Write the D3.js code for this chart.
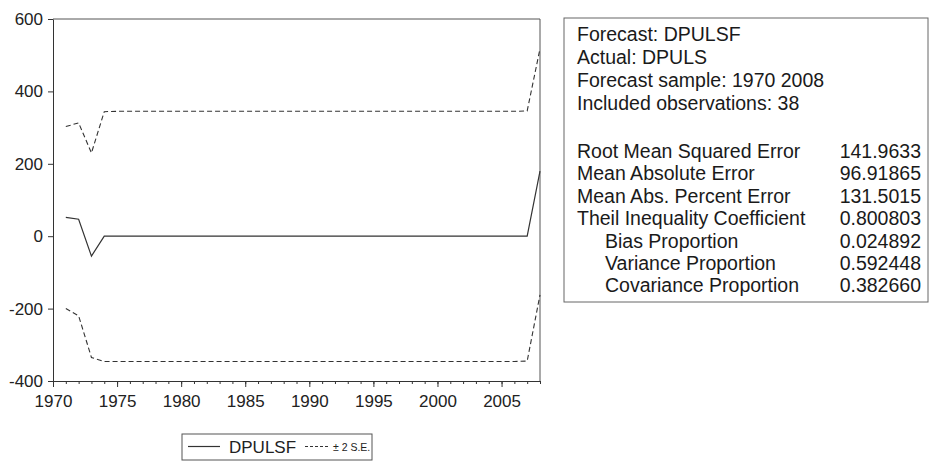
<!DOCTYPE html>
<html>
<head>
<meta charset="utf-8">
<script src="https://cdn.jsdelivr.net/npm/d3@7/dist/d3.min.js"></script>
<style>
  body { margin: 0; background: #fff; }
  svg { display: block; font-family: Arial, "Liberation Sans", sans-serif; }
</style>
</head>
<body>
<div id="chart"></div>
<script>
// forecast years (1971-2008, 38 obs)
var years = [1971,1972,1973,1974,1975,1976,1977,1978,1979,1980,
             1981,1982,1983,1984,1985,1986,1987,1988,1989,1990,
             1991,1992,1993,1994,1995,1996,1997,1998,1999,2000,
             2001,2002,2003,2004,2005,2006,2007,2008];

// DPULSF forecast
var forecast = [52,47,-55,0,0,0,0,0,0,0,
                0,0,0,0,0,0,0,0,0,0,
                0,0,0,0,0,0,0,0,0,0,
                0,0,0,0,0,0,0,180];

// +2 S.E. band
var upper = [303,313,230,344,345,345,345,345,345,345,
             345,345,345,345,345,345,345,345,345,345,
             345,345,345,345,345,345,345,345,345,345,
             345,345,345,345,345,345,346,518];

// -2 S.E. band
var lower = [-200,-220,-335,-346,-346,-346,-346,-346,-346,-346,
             -346,-346,-346,-346,-346,-346,-346,-346,-346,-346,
             -346,-346,-346,-346,-346,-346,-346,-346,-346,-346,
             -346,-346,-346,-346,-346,-346,-345,-162];

var yTicks = [-400,-200,0,200,400,600];
var xTicks = [1970,1975,1980,1985,1990,1995,2000,2005];

var infoLines = ["Forecast: DPULSF", "Actual: DPULS", "Forecast sample: 1970 2008", "Included observations: 38"];
var statLabels = ["Root Mean Squared Error", "Mean Absolute Error", "Mean Abs. Percent Error",
                  "Theil Inequality Coefficient", "Bias Proportion", "Variance Proportion", "Covariance Proportion"];
var statValues = ["141.9633", "96.91865", "131.5015", "0.800803", "0.024892", "0.592448", "0.382660"];
var statIndent = [false, false, false, false, true, true, true];

var W = 929, H = 462;
var plot = {left: 53, right: 540, top: 19, bottom: 381};
var ink = "#333";
var FONT = "Arial, 'Liberation Sans', sans-serif";

var svg = d3.select("#chart").append("svg")
  .attr("width", W).attr("height", H);

var x = d3.scaleLinear().domain([1970, 2008]).range([plot.left, plot.right]);
var y = d3.scaleLinear().domain([-400, 600]).range([plot.bottom, plot.top]);

// frame: top + right
svg.append("path")
  .attr("d", "M" + plot.left + "," + plot.top + "H" + plot.right + "V" + plot.bottom)
  .attr("fill", "none").attr("stroke", "#555").attr("stroke-width", 1);

// y axis (plain hyphen minus like the original)
var yAxis = d3.axisLeft(y).tickValues(yTicks).tickSize(5).tickSizeOuter(0).tickPadding(5)
  .tickFormat(function(d) { return String(d); });
var gy = svg.append("g").attr("transform", "translate(" + plot.left + ",0)").call(yAxis);
gy.attr("font-size", 17).attr("font-family", FONT);
gy.selectAll("text").attr("fill", "#222");
gy.selectAll("line,path").attr("stroke", ink);

// x axis: minor ticks every year, major every 5
var minorYears = d3.range(1970, 2009);
var xMinor = d3.axisBottom(x).tickValues(minorYears).tickSize(3).tickSizeOuter(0).tickFormat("");
svg.append("g").attr("transform", "translate(0," + plot.bottom + ")").call(xMinor)
  .selectAll("line,path").attr("stroke", ink);
var xAxis = d3.axisBottom(x).tickValues(xTicks).tickSize(6).tickSizeOuter(0)
  .tickFormat(function(d) { return String(d); }).tickPadding(8);
var gx = svg.append("g").attr("transform", "translate(0," + plot.bottom + ")").call(xAxis);
gx.attr("font-size", 17).attr("font-family", FONT);
gx.select(".domain").remove();
gx.selectAll("text").attr("fill", "#222");
gx.selectAll("line").attr("stroke", ink);

var line = d3.line()
  .x(function(d) { return x(d[0]); })
  .y(function(d) { return y(d[1]); });

function pairs(vals) { return years.map(function(yr, i) { return [yr, vals[i]]; }); }

svg.append("path").datum(pairs(upper)).attr("d", line)
  .attr("fill", "none").attr("stroke", ink).attr("stroke-width", 1.1).attr("stroke-dasharray", "5,3");
svg.append("path").datum(pairs(lower)).attr("d", line)
  .attr("fill", "none").attr("stroke", ink).attr("stroke-width", 1.1).attr("stroke-dasharray", "5,3");
svg.append("path").datum(pairs(forecast)).attr("d", line)
  .attr("fill", "none").attr("stroke", ink).attr("stroke-width", 1.2);

// legend
var lg = svg.append("g").attr("transform", "translate(182,434)");
lg.append("rect").attr("width", 190).attr("height", 26)
  .attr("fill", "#fff").attr("stroke", "#555").attr("stroke-width", 1);
lg.append("line").attr("x1", 6).attr("x2", 38).attr("y1", 12.5).attr("y2", 12.5)
  .attr("stroke", ink).attr("stroke-width", 1.2);
lg.append("text").attr("x", 47).attr("y", 19).attr("font-size", 17).attr("fill", "#222").text("DPULSF");
lg.append("line").attr("x1", 123).attr("x2", 148).attr("y1", 12.5).attr("y2", 12.5)
  .attr("stroke", ink).attr("stroke-width", 1.1).attr("stroke-dasharray", "3,2");
lg.append("text").attr("x", 151).attr("y", 17).attr("font-size", 10.5).attr("fill", "#222").text("± 2 S.E.");

// stats box
var sb = svg.append("g");
sb.append("rect").attr("x", 564).attr("y", 18).attr("width", 364).attr("height", 284)
  .attr("fill", "#fff").attr("stroke", "#666").attr("stroke-width", 1);

sb.selectAll("text.info").data(infoLines).enter().append("text")
  .attr("class", "info")
  .attr("x", 577)
  .attr("y", function(d, i) { return 41 + i * 23; })
  .attr("font-size", 19.5).attr("fill", "#1a1a1a")
  .text(function(d) { return d; });

sb.selectAll("text.lab").data(statLabels).enter().append("text")
  .attr("class", "lab")
  .attr("x", function(d, i) { return statIndent[i] ? 605 : 577; })
  .attr("y", function(d, i) { return 158 + i * 22.4; })
  .attr("font-size", 19.5).attr("fill", "#1a1a1a")
  .text(function(d) { return d; });

sb.selectAll("text.val").data(statValues).enter().append("text")
  .attr("class", "val")
  .attr("x", 921)
  .attr("y", function(d, i) { return 158 + i * 22.4; })
  .attr("text-anchor", "end")
  .attr("font-size", 19.5).attr("fill", "#1a1a1a")
  .text(function(d) { return d; });
</script>
</body>
</html>
